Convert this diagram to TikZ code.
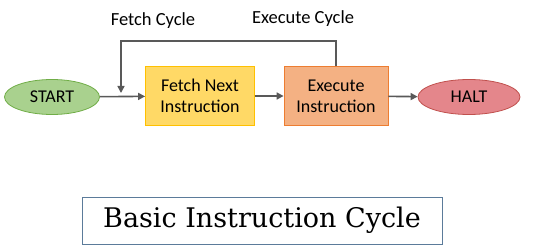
\documentclass[tikz,border=0pt]{standalone}
\usepackage{fontspec}
\setmainfont{Carlito}
\newfontfamily\titlefont{DejaVu Serif}
\usetikzlibrary{shapes.geometric,arrows.meta}
\definecolor{lineGray}{HTML}{595959}
\definecolor{startFill}{HTML}{A9D18E}
\definecolor{startLine}{HTML}{70AD47}
\definecolor{fetchFill}{HTML}{FFD966}
\definecolor{fetchLine}{HTML}{FFC000}
\definecolor{execFill}{HTML}{F4B183}
\definecolor{execLine}{HTML}{ED7D31}
\definecolor{haltFill}{HTML}{E4868B}
\definecolor{haltLine}{HTML}{C0504D}
\definecolor{titleLine}{HTML}{5B7B9A}

\begin{document}
\begin{tikzpicture}[
    x=1pt, y=-1pt,
    font=\fontsize{18}{21}\selectfont,
    terminal/.style={ellipse, draw, line width=0.8pt, inner sep=0pt,
                     minimum width=95pt, minimum height=35pt},
    stage/.style={rectangle, draw, line width=0.8pt, align=center,
                  minimum height=59pt},
    flow/.style={draw=lineGray, line width=1.6pt,
                 -{Triangle[length=7pt,width=7pt]}},
    cycle/.style={font=\fontsize{18.5}{21}\selectfont},
  ]
  \useasboundingbox (0,0) rectangle (538,248);

  % Stages of the cycle
  \node[terminal, fill=startFill, draw=startLine] (start) at (52,97) {START};
  \node[stage, fill=fetchFill, draw=fetchLine, minimum width=109pt] (fetch) at (200,96) {Fetch Next\\Instruction};
  \node[stage, fill=execFill, draw=execLine, minimum width=104pt] (exec) at (336,96) {Execute\\Instruction};
  \node[terminal, fill=haltFill, draw=haltLine, minimum width=102pt] (halt) at (469,97) {HALT};

  % Main flow
  \draw[flow] (start) -- (fetch);
  \draw[flow] (fetch) -- (exec);
  \draw[flow] (exec) -- (halt);

  % Feedback loop
  \coordinate (looptop) at (121,41);
  \coordinate (loopend) at (121,93);
  \draw[flow] (exec.north) |- (looptop) -- (loopend);

  % Cycle labels
  \node[cycle] (fetchcyc) at (153,21) {Fetch Cycle};
  \node[cycle] (execcyc) at (303,19) {Execute Cycle};

  % Title
  \node[draw=titleLine, line width=0.6pt, minimum width=360pt, minimum height=47pt,
        font=\titlefont\fontsize{27}{31}\selectfont] (title) at (262,220.5) {Basic Instruction Cycle};
\end{tikzpicture}
\end{document}
